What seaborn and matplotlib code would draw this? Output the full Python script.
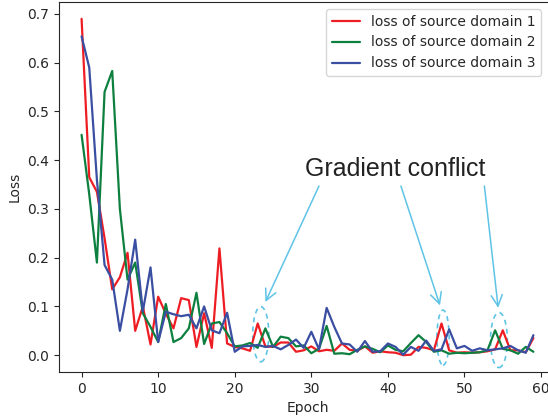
import matplotlib
matplotlib.use("Agg")
import matplotlib.pyplot as plt
from matplotlib.patches import Ellipse
import seaborn as sns
import numpy as np
import pandas as pd

# ---- data ----
epochs = list(range(60))

loss_1 = [0.69, 0.365, 0.335, 0.24, 0.135, 0.16, 0.21, 0.05, 0.10, 0.022,
          0.12, 0.085, 0.055, 0.117, 0.113, 0.017, 0.086, 0.015, 0.219, 0.024,
          0.017, 0.014, 0.009, 0.065, 0.018, 0.017, 0.026, 0.026, 0.007, 0.01,
          0.018, 0.008, 0.011, 0.009, 0.024, 0.011, 0.009, 0.018, 0.005, 0.008,
          0.006, 0.005, 0.0, 0.001, 0.017, 0.015, 0.01, 0.065, 0.01, 0.005,
          0.006, 0.005, 0.006, 0.008, 0.012, 0.051, 0.01, 0.01, 0.006, 0.035]

loss_2 = [0.452, 0.33, 0.19, 0.54, 0.583, 0.30, 0.155, 0.19, 0.086, 0.058,
          0.027, 0.105, 0.027, 0.035, 0.055, 0.128, 0.023, 0.065, 0.068, 0.045,
          0.018, 0.02, 0.025, 0.015, 0.055, 0.017, 0.038, 0.035, 0.018, 0.02,
          0.004, 0.013, 0.06, 0.003, 0.004, 0.002, 0.011, 0.018, 0.013, 0.006,
          0.02, 0.011, 0.008, 0.025, 0.041, 0.027, 0.007, 0.01, 0.003, 0.005,
          0.004, 0.005, 0.006, 0.01, 0.051, 0.013, 0.01, 0.003, 0.017, 0.007]

loss_3 = [0.654, 0.59, 0.36, 0.185, 0.155, 0.05, 0.135, 0.237, 0.09, 0.18,
          0.027, 0.089, 0.084, 0.08, 0.083, 0.055, 0.1, 0.051, 0.045, 0.087,
          0.007, 0.018, 0.019, 0.021, 0.017, 0.019, 0.012, 0.021, 0.032, 0.015,
          0.048, 0.012, 0.097, 0.058, 0.024, 0.022, 0.007, 0.029, 0.007, 0.008,
          0.024, 0.017, 0.001, 0.017, 0.009, 0.03, 0.009, 0.012, 0.053, 0.014,
          0.019, 0.009, 0.014, 0.01, 0.012, 0.014, 0.019, 0.01, 0.005, 0.041]

labels = ['loss of source domain 1', 'loss of source domain 2', 'loss of source domain 3']
colors = ['#ee1d24', '#0d8040', '#3a4ea2']

# conflict regions: (epoch, loss) centre of each dashed ellipse
conflict_x = [23.4, 47.2, 54.5]
conflict_y = [0.043, 0.036, 0.031]

df = pd.DataFrame({
    'Epoch': epochs * 3,
    'Loss': loss_1 + loss_2 + loss_3,
    'series': [labels[0]] * 60 + [labels[1]] * 60 + [labels[2]] * 60,
})

# ---- plotting ----
sns.set_style('ticks')
fig = plt.figure(figsize=(5.48, 4.18), dpi=100)
ax = fig.add_axes([59 / 548, 46 / 418, 497 / 548, 370 / 418])

sns.lineplot(data=df, x='Epoch', y='Loss', hue='series',
             palette=dict(zip(labels, colors)), linewidth=1.6, ax=ax)

ax.set_yticks([0.0, 0.1, 0.2, 0.3, 0.4, 0.5, 0.6, 0.7])
ax.set_xticks([0, 10, 20, 30, 40, 50, 60])

ax.legend(loc='upper right', bbox_to_anchor=(541 / 548, 1 - 9 / 418),
          bbox_transform=fig.transFigure, borderaxespad=0, fontsize=10)

# dashed ellipses + arrows
arrow_col = '#5ec4e6'
for cx, cy, w in zip(conflict_x, conflict_y, [2.1, 1.6, 2.2]):
    ax.add_patch(Ellipse((cx, cy), w, 0.113, fill=False, ls=(0, (3, 2.5)),
                         ec=arrow_col, lw=1.2))

ax.text(41.0, 0.382, 'Gradient conflict', ha='center', va='center',
        fontsize=18, family='Liberation Sans', color='#222222')

starts = [(31.0, 0.347), (41.7, 0.347), (52.6, 0.347)]
ends = [(24.0, 0.109), (46.8, 0.102), (54.4, 0.097)]
for s, e in zip(starts, ends):
    ax.annotate('', xy=e, xytext=s,
                arrowprops=dict(arrowstyle='->', color=arrow_col, lw=1.1,
                                mutation_scale=20, shrinkA=0, shrinkB=0))

fig.savefig('out.png', dpi=100)
